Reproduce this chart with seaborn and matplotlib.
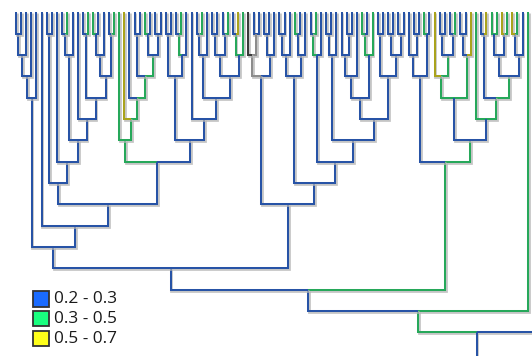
import matplotlib
matplotlib.use('Agg')
import matplotlib.pyplot as plt
import matplotlib.patheffects as pe
from matplotlib.patches import Rectangle
import seaborn as sns
import pandas as pd

# ---- tree data: Newick-like clades, 'x' = leaf, ':c' = branch colour code ----
clade_a = "((((x,x),x),x),x)"
clade_b = "((x,x),(x,(((x,x:g),x),(x,((x,x:g),(((x:g,x),x),(x,x:g)))))))"
clade_c = "(x:g,(x:y,(x,((x,x),((x:g,x),(x,x)):g):g):g):g):g"
clade_q_left = "((x,x),((x,x:g):g,x))"
clade_q_right = "(x,(((x,x:g),x),(((x,x),(x,x:g)),((x,x:y):g,x:g))))"
clade_g = "((x:k,(x,x):e):e,((x,x),x))"
clade_h = "(((x,x),x),((x:g,x),x))"
clade_i = "(((x,x:g):g,x),(((x,x),x),((((x,(x,x)),x),((x:g,x):g,x:g)),((x,x),((x,x),(x,x))))))"
clade_j = "((x,(x,x)),(x:g,x))"
clade_k = "((x:y,((x,x),(x,x:g)):g):g,((x,x),x:y):g)"
clade_m = "(x:g,((x,x:y),(((x:g,x:g),(x:y,x:g)),((x:y,x:g),x)):g):g)"
clade_out = "(x,x)"

colour_codes = ['b', 'g', 'y', 's', 'e', 'k']
colour_values = ['#2753a6', '#26a85a', '#aaa31c', '#4b5f80', '#8c8c8c', '#3a3a3a']

legend_labels = ['0.2 - 0.3', '0.3 - 0.5', '0.5 - 0.7']
legend_colours = ['#1a6bff', '#19ff7f', '#ffff1a']

# compose the full tree
left_part = "(" + clade_a + ",(x,(" + clade_b + ",(" + clade_c + ",(" + clade_q_left + "," + clade_q_right + ")))))"
mid_part = "(" + clade_g + ",(" + clade_h + "," + clade_i + "))"
green_part = "(" + clade_j + ",(" + clade_k + "," + clade_m + "):g):g"
tree_str = "((((" + left_part + "," + mid_part + ")," + green_part + "),x:g):g," + clade_out + ")"


def parse(s):
    pos = [0]

    def node():
        if s[pos[0]] == '(':
            pos[0] += 1
            kids = [node()]
            while s[pos[0]] == ',':
                pos[0] += 1
                kids.append(node())
            pos[0] += 1
            n = {'kids': kids}
        else:
            pos[0] += 1
            n = {'kids': []}
        c = 'b'
        if pos[0] < len(s) and s[pos[0]] == ':':
            c = s[pos[0] + 1]
            pos[0] += 2
        n['c'] = c
        return n
    return node()


root = parse(tree_str)
counter = [0]


def layout(n):
    if not n['kids']:
        n['x'] = counter[0]
        counter[0] += 1
        n['lv'] = 0
    else:
        for k in n['kids']:
            layout(k)
        n['x'] = sum(k['x'] for k in n['kids']) / len(n['kids'])
        n['lv'] = 1 + max(k['lv'] for k in n['kids'])


layout(root)

rows = []
eid = [0]


def edges(n):
    for k in n['kids']:
        e = eid[0]
        eid[0] += 1
        for (px, py) in [(k['x'], k['lv']), (k['x'], n['lv']), (n['x'], n['lv'])]:
            rows.append({'edge': e, 'x': px, 'y': py, 'col': k['c']})
        edges(k)


edges(root)
e = eid[0]
for (px, py) in [(root['x'], root['lv']), (root['x'], 17)]:
    rows.append({'edge': e, 'x': px, 'y': py, 'col': 'b'})
df = pd.DataFrame(rows)

sns.set_theme(style='white')
plt.rcParams['font.family'] = ['Open Sans', 'DejaVu Sans']

fig = plt.figure(figsize=(5.32, 3.56), dpi=100)
ax = fig.add_axes([0, 0, 1, 1])
palette = dict(zip(colour_codes, colour_values))
sns.lineplot(data=df, x='x', y='y', units='edge', hue='col', palette=palette,
             estimator=None, sort=False, legend=False, linewidth=1.45, ax=ax)
for ln in ax.lines:
    ln.set_solid_joinstyle('miter')
    ln.set_solid_capstyle('butt')
    ln.set_path_effects([pe.Stroke(offset=(0.6, -0.6), linewidth=2.0, foreground='#b4b4b4', alpha=0.75),
                         pe.Normal()])

W, H = 532.0, 356.0
ax.set_xlim(-15.7 / 5.172, (W - 15.7) / 5.172)
ax.set_ylim((H - 12.5) / 21.33, -12.5 / 21.33)
ax.set_axis_off()

# legend
for i, (lab, colr) in enumerate(zip(legend_labels, legend_colours)):
    top = 291 + i * 19.8
    ax.add_patch(Rectangle((33 / W, 1 - (top + 15.5) / H), 15.5 / W, 15.5 / H,
                           transform=ax.transAxes, facecolor=colr, edgecolor='#333333',
                           linewidth=1.3, clip_on=False))
    ax.text(54.5 / W, 1 - (top + 8) / H, lab, transform=ax.transAxes, fontsize=12.4,
            color='#1a1a1a', va='center', ha='left')

fig.savefig('out.png', dpi=100, facecolor='white')
